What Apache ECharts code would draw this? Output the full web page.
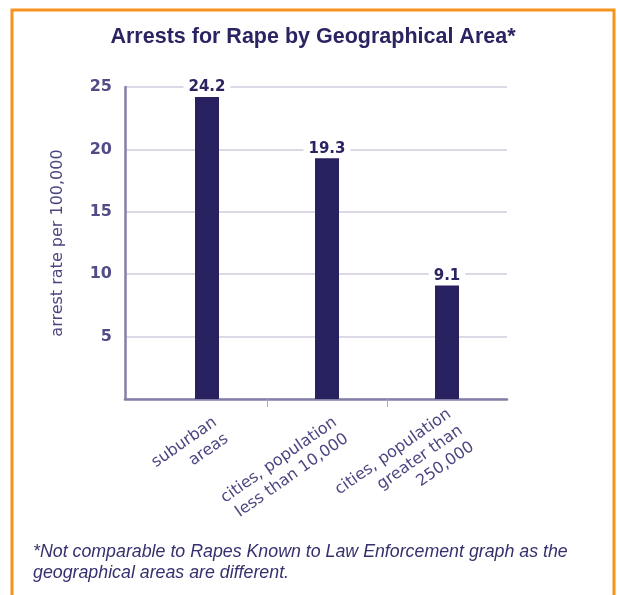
<!DOCTYPE html>
<html>
<head>
<meta charset="utf-8">
<script src="https://cdn.jsdelivr.net/npm/echarts@6/dist/echarts.min.js"></script>
<style>
html,body{margin:0;padding:0;background:#fff;}
#chart{width:617px;height:595px;}
</style>
</head>
<body>
<div id="chart"></div>
<script>
var categories = ['suburban\nareas', 'cities, population\nless than 10,000', 'cities, population\ngreater than\n250,000'];
var arrestRates = [24.2, 19.3, 9.1];
var yTicks = [0, 5, 10, 15, 20, 25];

var titleText = 'Arrests for Rape by Geographical Area*';
var footnoteText = '*Not comparable to Rapes Known to Law Enforcement graph as the\ngeographical areas are different.';
var yAxisName = 'arrest rate per 100,000';

var navy = '#27225F';
var textCol = '#4B4680';
var plotTop = 87, plotHeight = 312;

var hiddenY = function (idx) {
  return { type: 'value', gridIndex: idx, min: yTicks[0], max: yTicks[yTicks.length - 1], interval: 5, show: false };
};

var chart = echarts.init(document.getElementById('chart'));
chart.setOption({
  animation: false,
  backgroundColor: '#ffffff',
  title: [
    {
      text: titleText, left: 308, top: 21, textAlign: 'center',
      textStyle: { fontFamily: 'Liberation Sans', fontWeight: 'bold', fontSize: 21.5, color: '#2A2462' }
    },
    {
      text: footnoteText, left: 28, top: 537,
      textStyle: { fontFamily: 'Liberation Sans', fontStyle: 'italic', fontWeight: 'normal', fontSize: 17.8, lineHeight: 21, color: '#35306E' }
    }
  ],
  graphic: [{
    type: 'rect', silent: true,
    shape: { x: 12, y: 10, width: 602, height: 640 },
    style: { fill: 'none', stroke: '#F7941D', lineWidth: 3 }
  }],
  grid: [
    { left: 125, top: plotTop, width: 382, height: plotHeight },
    { left: 147, top: plotTop, width: 360, height: plotHeight },
    { left: 161, top: plotTop, width: 360, height: plotHeight },
    { left: 267, top: plotTop, width: 120, height: plotHeight }
  ],
  xAxis: [
    { type: 'value', gridIndex: 0, min: 0, max: 1,
      axisLine: { show: true, lineStyle: { color: '#847FA6', width: 2.5 } },
      axisTick: { show: false }, axisLabel: { show: false }, splitLine: { show: false } },
    { type: 'category', gridIndex: 1, data: categories,
      axisLine: { show: false }, axisTick: { show: false }, axisLabel: { show: false } },
    { type: 'category', gridIndex: 2, data: categories,
      axisLine: { show: false }, axisTick: { show: false },
      axisLabel: { interval: 0, rotate: 35, margin: 30, fontFamily: 'DejaVu Sans', fontSize: 16, lineHeight: 20, color: textCol } },
    { type: 'value', gridIndex: 3, min: 1, max: 2, interval: 1,
      axisLine: { show: false },
      axisTick: { show: true, length: 8, lineStyle: { color: '#ABA7C2', width: 1 } },
      axisLabel: { show: false }, splitLine: { show: false } }
  ],
  yAxis: [
    { type: 'value', gridIndex: 0, min: yTicks[0], max: yTicks[yTicks.length - 1], interval: 5,
      name: yAxisName, nameLocation: 'middle', nameGap: 59, nameRotate: 90,
      nameTextStyle: { fontFamily: 'DejaVu Sans', fontSize: 16, color: textCol },
      axisLine: { show: true, lineStyle: { color: '#847FA6', width: 2.5 } },
      axisTick: { show: false },
      axisLabel: { margin: 13, fontFamily: 'DejaVu Sans', fontSize: 16, fontWeight: 'bold', color: '#514B86',
        formatter: function (v) { return v === 0 ? '' : String(v); } },
      splitLine: { show: true, lineStyle: { color: '#CFCDDC', width: 1.5 } } },
    hiddenY(1), hiddenY(2), hiddenY(3)
  ],
  series: [{
    type: 'bar', xAxisIndex: 1, yAxisIndex: 1,
    data: arrestRates, barWidth: 24,
    itemStyle: { color: navy },
    label: {
      show: true, position: 'top', distance: 2,
      fontFamily: 'DejaVu Sans', fontWeight: 'bold', fontSize: 15, color: '#2A2462',
      backgroundColor: '#ffffff', padding: [1, 5, 0, 5],
      formatter: function (p) { return p.value.toFixed(1); }
    }
  }]
});
</script>
</body>
</html>
